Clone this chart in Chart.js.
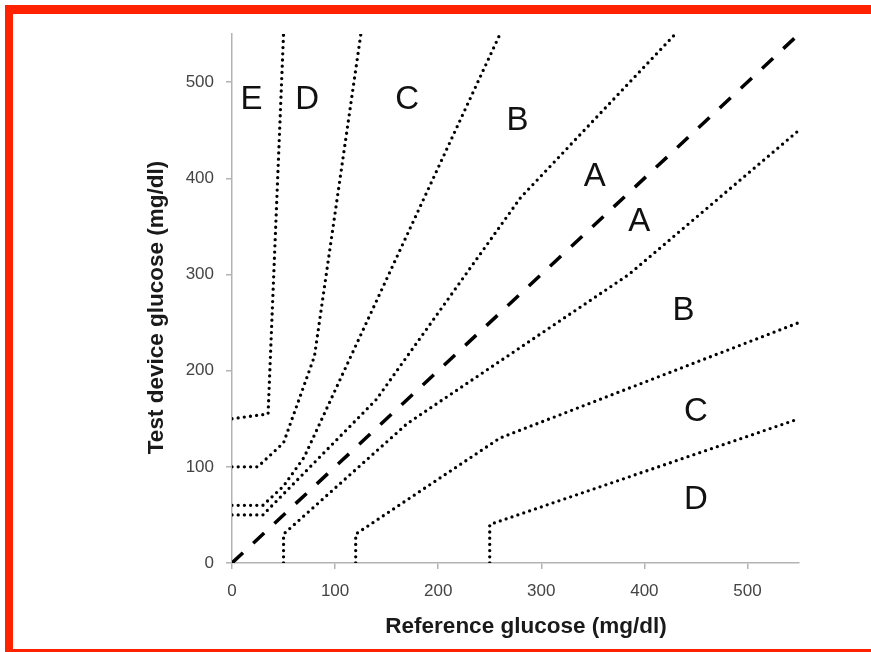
<!DOCTYPE html>
<html>
<head>
<meta charset="utf-8">
<script src="https://cdn.jsdelivr.net/npm/chart.js@4/dist/chart.umd.min.js"></script>
<style>
  html, body { margin: 0; padding: 0; background: #fff; overflow: hidden; }
  #wrap { position: absolute; left: 0; top: 0; width: 871px; height: 652px; }
  #frame { position: absolute; left: 5px; top: 5px; width: 1000px; height: 653px; box-sizing: border-box;
           border-top: 9px solid #ff2200; border-left: 8px solid #ff2200; border-bottom: 9px solid #ff2200; }
  canvas { position: absolute; left: 0; top: 0; }
</style>
</head>
<body>
<div id="wrap">
  <div id="frame"></div>
  <canvas id="c" width="871" height="652"></canvas>
</div>
<script>
// ---- data (mg/dl) ----
const xTicks = [0, 100, 200, 300, 400, 500];
const yTicks = [0, 100, 200, 300, 400, 500];

const identityX = [0, 550];
const identityY = [0, 550];

const aUpperX = [0, 30, 140, 280, 430];
const aUpperY = [50, 50, 170, 380, 550];
const aLowerX = [50, 50, 170, 385, 550];
const aLowerY = [0, 30, 145, 300, 450];

const bUpperX = [0, 30, 50, 70, 260];
const bUpperY = [60, 60, 80, 110, 550];
const bLowerX = [120, 120, 260, 550];
const bLowerY = [0, 30, 130, 250];

const cUpperX = [0, 25, 50, 80, 125];
const cUpperY = [100, 100, 125, 215, 550];
const cLowerX = [250, 250, 550];
const cLowerY = [0, 40, 150];

const dUpperX = [0, 35, 50];
const dUpperY = [150, 155, 550];

const zoneLabels = ['E', 'D', 'C', 'B', 'A', 'A', 'B', 'C', 'D'];
const zoneLabelX = [19, 73, 170, 277, 352, 395, 438, 450, 450];
const zoneLabelY = [484, 484, 484, 462, 404, 357, 265, 160, 68];

const xTitle = 'Reference glucose (mg/dl)';
const yTitle = 'Test device glucose (mg/dl)';

// ---- helpers ----
const pts = (xs, ys) => xs.map((x, i) => ({ x: x, y: ys[i] }));
const FONT = "'Liberation Sans', Arial, Helvetica, sans-serif";

function dotted(xs, ys) {
  return {
    data: pts(xs, ys), showLine: true, pointRadius: 0, pointHoverRadius: 0,
    borderColor: '#000', borderWidth: 3.3, borderDash: [0, 6.2], borderCapStyle: 'round',
    borderJoinStyle: 'round', fill: false, tension: 0
  };
}

const labelsPlugin = {
  id: 'zoneLabels',
  afterDatasetsDraw(chart) {
    const ctx = chart.ctx, xs = chart.scales.x, ys = chart.scales.y;
    ctx.save();
    const size = 33;
    ctx.font = size + 'px ' + FONT;
    ctx.fillStyle = '#111';
    ctx.textAlign = 'center';
    ctx.textBaseline = 'alphabetic';
    zoneLabels.forEach((t, i) => {
      ctx.fillText(t, xs.getPixelForValue(zoneLabelX[i]), ys.getPixelForValue(zoneLabelY[i]) + size * 0.358);
    });
    // axis titles
    ctx.font = 'bold 22.5px ' + FONT;
    ctx.fillStyle = '#1a1a1a';
    ctx.fillText(xTitle, 526, 633);
    ctx.translate(163, 307.5);
    ctx.rotate(-Math.PI / 2);
    ctx.fillText(yTitle, 0, 0);
    ctx.restore();
  }
};

const axisColor = '#b3b3b3';
function axis(ticksArr, fit) {
  return {
    type: 'linear', min: 0, max: 550,
    afterBuildTicks: (s) => { s.ticks = ticksArr.map(v => ({ value: v })); },
    afterFit: fit,
    grid: { display: true, drawOnChartArea: false, drawTicks: true, tickLength: 6, color: axisColor, lineWidth: 1.5 },
    border: { display: true, color: axisColor, width: 1.5 },
    ticks: { color: '#444', font: { size: 17, family: FONT }, padding: 12 },
    title: { display: false }
  };
}

new Chart(document.getElementById('c'), {
  type: 'scatter',
  data: {
    datasets: [
      {
        data: pts(identityX, identityY), showLine: true, pointRadius: 0, pointHoverRadius: 0,
        borderColor: '#000', borderWidth: 3.5, borderDash: [15, 14], borderCapStyle: 'butt', fill: false, tension: 0
      },
      dotted(aUpperX, aUpperY),
      dotted(aLowerX, aLowerY),
      dotted(bUpperX, bUpperY),
      dotted(bLowerX, bLowerY),
      dotted(cUpperX, cUpperY),
      dotted(cLowerX, cLowerY),
      dotted(dUpperX, dUpperY)
    ]
  },
  options: {
    responsive: false, animation: false, devicePixelRatio: 1,
    layout: { padding: { left: 0, top: 34, right: 72, bottom: 0 } },
    plugins: { legend: { display: false }, tooltip: { enabled: false }, title: { display: false } },
    scales: {
      x: axis(xTicks, (s) => { s.height = 89; }),
      y: axis(yTicks, (s) => { s.width = 232; })
    }
  },
  plugins: [labelsPlugin]
});
</script>
</body>
</html>
